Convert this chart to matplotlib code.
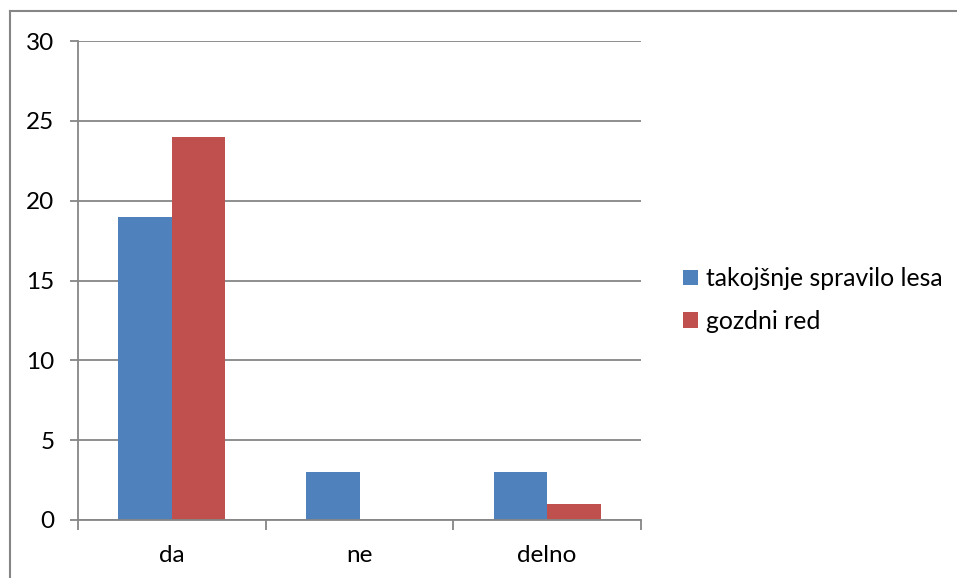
import matplotlib
matplotlib.use("Agg")
import matplotlib.pyplot as plt
import numpy as np
from matplotlib.lines import Line2D

categories = ["da", "ne", "delno"]
series_names = ["takojšnje spravilo lesa", "gozdni red"]
takojsnje = [19, 3, 3]
gozdni = [24, 0, 1]
yticks = [0, 5, 10, 15, 20, 25, 30]

colors = ["#4F81BD", "#C0504D"]
grid_color = "#868686"

plt.rcParams['font.family'] = ['Lato', 'DejaVu Sans']

fig = plt.figure(figsize=(9.57, 5.78), dpi=100)
ax = fig.add_axes([78/957, 1-520/578, (641-78)/957, (520-41)/578])

x = np.arange(len(categories))
w = 1/3.5
ax.bar(x - w/2, takojsnje, width=w, color=colors[0], label=series_names[0], zorder=3)
ax.bar(x + w/2, gozdni, width=w, color=colors[1], label=series_names[1], zorder=3)

ax.set_xlim(-0.5, len(categories)-0.5)
ax.set_ylim(0, 30)
ax.set_yticks(yticks)
ax.set_yticklabels([str(v) for v in yticks])
ax.set_xticks(x)
ax.set_xticklabels(categories)
ax.set_xticks(np.arange(len(categories)+1) - 0.5, minor=True)

ax.yaxis.grid(True, color=grid_color, linewidth=1.3, zorder=0)
for s in ["top", "right"]:
    ax.spines[s].set_visible(False)
for s in ["left", "bottom"]:
    ax.spines[s].set_color(grid_color)
    ax.spines[s].set_linewidth(1.3)
    ax.spines[s].set_zorder(4)

ax.tick_params(axis='y', length=6, width=1.3, color=grid_color, labelsize=17.5, pad=11)
ax.tick_params(axis='x', which='major', length=0, labelsize=17.5, pad=18)
ax.tick_params(axis='x', which='minor', length=7, width=1.3, color=grid_color)

fig.legend(loc='center left', bbox_to_anchor=(683/957, 1-300/578), frameon=False,
           fontsize=17.8, handlelength=0.6, handleheight=0.6, handletextpad=0.35,
           labelspacing=0.8, borderpad=0, borderaxespad=0)

# outer chart border (left and top visible)
fig.add_artist(Line2D([9.5/957, 9.5/957], [0, 1-11/578], transform=fig.transFigure,
                      color=grid_color, linewidth=1.5))
fig.add_artist(Line2D([9.5/957, 1], [1-11/578, 1-11/578], transform=fig.transFigure,
                      color=grid_color, linewidth=1.5))

fig.savefig("out.png", dpi=100)
